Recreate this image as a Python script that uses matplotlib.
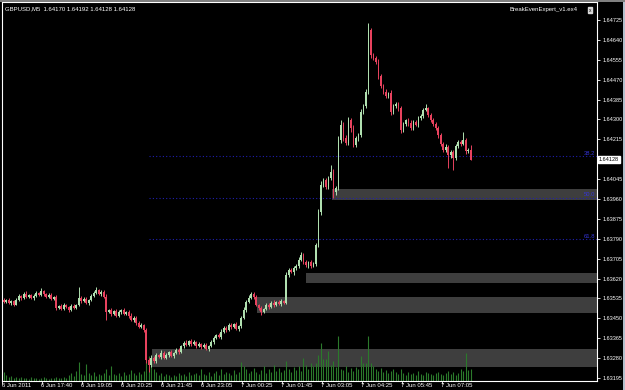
import matplotlib
matplotlib.use("Agg")
import matplotlib.pyplot as plt
from matplotlib.patches import Rectangle
import matplotlib.transforms as mtransforms

plt.rcParams['font.family'] = ['Liberation Sans', 'DejaVu Sans']

# GBPUSD M5 bars, 6 Jun 2011 16:20 -> 7 Jun 2011 ~07:55
first_open = 1.63529
closes = [
    1.63521, 1.63529, 1.63517, 1.63525, 1.63508, 1.63529, 1.63546, 1.63538, 1.63555, 1.63542,
    1.63551, 1.63538, 1.63546, 1.63559, 1.63551, 1.63568, 1.63555, 1.63542, 1.63551, 1.63534,
    1.63542, 1.63495, 1.63504, 1.63491, 1.63508, 1.63500, 1.63487, 1.63504, 1.63495, 1.63508,
    1.63538, 1.63525, 1.63534, 1.63517, 1.63529, 1.63546, 1.63559, 1.63572, 1.63555, 1.63564,
    1.63542, 1.63478, 1.63487, 1.63470, 1.63482, 1.63461, 1.63478, 1.63487, 1.63470, 1.63478,
    1.63461, 1.63444, 1.63453, 1.63431, 1.63414, 1.63423, 1.63401, 1.63273, 1.63252, 1.63282,
    1.63269, 1.63295, 1.63286, 1.63303, 1.63282, 1.63295, 1.63307, 1.63290, 1.63303, 1.63316,
    1.63307, 1.63333, 1.63346, 1.63337, 1.63354, 1.63342, 1.63350, 1.63333, 1.63342, 1.63329,
    1.63337, 1.63320, 1.63333, 1.63350, 1.63367, 1.63380, 1.63371, 1.63393, 1.63410, 1.63401,
    1.63423, 1.63414, 1.63427, 1.63406, 1.63418, 1.63453, 1.63487, 1.63521, 1.63538, 1.63555,
    1.63542, 1.63508, 1.63495, 1.63478, 1.63491, 1.63508, 1.63500, 1.63517, 1.63508, 1.63521,
    1.63512, 1.63525, 1.63517, 1.63636, 1.63657, 1.63649, 1.63666, 1.63675, 1.63700, 1.63722,
    1.63692, 1.63679, 1.63692, 1.63675, 1.63683, 1.63764, 1.63905, 1.64020, 1.64042, 1.64012,
    1.64050, 1.64076, 1.63991, 1.64008, 1.64213, 1.64277, 1.64221, 1.64200, 1.64298, 1.64264,
    1.64191, 1.64221, 1.64234, 1.64332, 1.64358, 1.64418, 1.64682, 1.64576, 1.64563, 1.64546,
    1.64486, 1.64443, 1.64418, 1.64400, 1.64413, 1.64332, 1.64358, 1.64366, 1.64349, 1.64255,
    1.64281, 1.64298, 1.64285, 1.64264, 1.64289, 1.64277, 1.64307, 1.64315, 1.64341, 1.64349,
    1.64319, 1.64298, 1.64281, 1.64264, 1.64234, 1.64196, 1.64170, 1.64183, 1.64149, 1.64161,
    1.64136, 1.64187, 1.64204, 1.64196, 1.64213, 1.64165, 1.64170, 1.64128,
]
# wick lengths above / below the body, in points (0.00001)
upper_wick = [
    6, 4, 8, 5, 3, 7, 9, 4, 6, 10, 5, 4, 8, 6, 3, 12, 5, 4, 7, 6,
    5, 8, 4, 6, 9, 5, 3, 7, 6, 4, 47, 6, 5, 8, 4, 9, 6, 10, 5, 7,
    6, 12, 4, 7, 5, 9, 6, 4, 8, 5, 6, 10, 7, 5, 8, 6, 4, 9, 6, 12,
    5, 8, 4, 10, 6, 7, 5, 9, 4, 6, 8, 5, 7, 10, 4, 6, 9, 5, 7, 4,
    6, 8, 5, 7, 9, 4, 6, 12, 5, 8, 6, 7, 4, 9, 5, 8, 10, 6, 12, 8,
    6, 9, 5, 7, 4, 8, 6, 5, 10, 4, 7, 6, 5, 12, 9, 6, 8, 5, 10, 12,
    7, 8, 5, 9, 6, 10, 12, 15, 9, 8, 10, 30, 12, 8, 15, 20, 10, 12, 14, 9,
    12, 8, 10, 12, 9, 14, 30, 8, 10, 7, 12, 9, 8, 10, 6, 12, 8, 10, 7, 9,
    10, 6, 8, 12, 7, 9, 6, 8, 10, 15, 6, 8, 10, 7, 9, 6, 8, 10, 7, 9,
    8, 10, 6, 9, 34, 7, 9, 22,
]
lower_wick = [
    5, 7, 4, 9, 6, 3, 5, 8, 4, 6, 7, 5, 9, 4, 6, 5, 8, 6, 4, 7,
    6, 9, 5, 7, 4, 8, 10, 5, 6, 7, 5, 8, 4, 6, 9, 5, 7, 4, 6, 8,
    5, 34, 6, 9, 5, 7, 4, 8, 6, 5, 9, 6, 8, 10, 5, 7, 9, 12, 32, 10,
    8, 10, 6, 9, 5, 7, 12, 6, 8, 5, 9, 6, 8, 5, 7, 10, 6, 8, 5, 9,
    7, 5, 8, 6, 10, 5, 7, 9, 6, 8, 5, 10, 7, 6, 9, 8, 6, 10, 7, 5,
    8, 6, 10, 12, 7, 5, 9, 6, 8, 5, 7, 9, 6, 8, 10, 6, 12, 8, 9, 7,
    10, 8, 12, 9, 7, 10, 8, 12, 10, 9, 8, 10, 25, 12, 10, 14, 12, 9, 11, 16,
    10, 9, 12, 10, 8, 11, 9, 12, 10, 8, 12, 9, 11, 10, 8, 12, 9, 10, 14, 11,
    9, 8, 12, 10, 9, 7, 11, 8, 10, 6, 9, 8, 10, 7, 12, 9, 10, 8, 55, 12,
    50, 9, 8, 10, 7, 12, 9, 0,
]
volumes = [
    90, 60, 40, 50, 35, 45, 30, 40, 35, 30, 25, 40, 30, 35, 25, 30, 40, 30, 25, 35,
    30, 45, 35, 30, 40, 30, 60, 80, 50, 100, 190, 70, 60, 170, 80, 60, 90, 50, 70, 60,
    80, 120, 60, 150, 70, 60, 80, 50, 90, 60, 70, 110, 80, 60, 90, 70, 100, 340, 250, 200,
    120, 90, 60, 80, 50, 70, 60, 40, 60, 50, 80, 60, 70, 50, 90, 60, 70, 80, 60, 120,
    70, 60, 90, 50, 80, 100, 60, 120, 70, 90, 80, 60, 110, 70, 90, 190, 150, 120, 80, 100,
    130, 90, 70, 110, 150, 80, 120, 90, 160, 100, 130, 90, 110, 200, 120, 90, 140, 110, 150, 100,
    230, 160, 120, 180, 150, 180, 260, 380, 220, 220, 300, 160, 200, 140, 450, 120, 110, 150, 90, 130,
    100, 140, 120, 250, 180, 180, 450, 180, 150, 120, 100, 130, 90, 110, 80, 100, 120, 90, 70, 120,
    80, 60, 90, 70, 80, 60, 100, 70, 60, 90, 80, 70, 60, 80, 90, 70, 60, 80, 100, 70,
    90, 60, 80, 120, 100, 280, 110, 120,
]
assert len(closes) == len(upper_wick) == len(lower_wick) == len(volumes)

time_label_bars = [0, 16, 32, 48, 64, 80, 96, 112, 128, 144, 160, 176]
time_labels = ["6 Jun 2011", "6 Jun 17:40", "6 Jun 19:05", "6 Jun 20:25", "6 Jun 21:45",
               "6 Jun 23:05", "7 Jun 00:25", "7 Jun 01:45", "7 Jun 03:05", "7 Jun 04:25",
               "7 Jun 05:45", "7 Jun 07:05"]
price_ticks = [1.64725, 1.64640, 1.64555, 1.64470, 1.64385, 1.64300, 1.64215, 1.64045,
               1.63960, 1.63875, 1.63790, 1.63705, 1.63620, 1.63535, 1.63450, 1.63365,
               1.63280, 1.63195]

# supply/demand zones: start bar, top, bottom
zone_start = [131.5, 121, 101.5, 59.5]
zone_top = [1.64003, 1.63645, 1.63542, 1.63320]
zone_bottom = [1.63956, 1.63602, 1.63474, 1.63243]

# fibo from the 20:30 low to the 04:15 high
fib_low = 1.63220
fib_high = 1.64712
fib_start = 58
fib_levels = [38.2, 50.0, 61.8]

bid = 1.64128
header = "GBPUSD,M5  1.64170 1.64192 1.64128 1.64128"

pt = 0.00001
ymin, ymax = 1.63182, 1.64802
vol_scale = 0.0000427 / 10

fig = plt.figure(figsize=(6.25, 3.9), dpi=100, facecolor='black')
ax = fig.add_axes([2 / 625, 9 / 390, 595 / 625, 379 / 390], facecolor='black')
ax.set_xlim(-0.5, 237.5)
ax.set_ylim(ymin, ymax)

for s, t, b in zip(zone_start, zone_top, zone_bottom):
    ax.add_patch(Rectangle((s, b), 240 - s, t - b, facecolor='#3e3e3e', edgecolor='none', zorder=1))

for lv in fib_levels:
    y = fib_high - lv / 100 * (fib_high - fib_low)
    ax.plot([fib_start, 237.5], [y, y], color='#2020b0', lw=0.8, ls=(0, (1, 2)), zorder=2)
    ax.text(236.8, y + 0.00001, "%.1f" % lv, color='#3434d8', fontsize=4.2,
            ha='right', va='bottom', zorder=5)

xs = list(range(len(closes)))
ax.vlines(xs, ymin, [ymin + v * vol_scale for v in volumes], color='#2b7a2b', lw=0.8, zorder=2)

opens = [first_open] + closes[:-1]
for i, (o, c, uw, lw_) in enumerate(zip(opens, closes, upper_wick, lower_wick)):
    col = '#b0e0b0' if c >= o else '#e8425e'
    hi = max(o, c) + uw * pt
    lo = min(o, c) - lw_ * pt
    ax.vlines(i, lo, hi, color=col, lw=0.7, zorder=3)
    h = abs(c - o)
    if h < 2 * pt:
        h = 2 * pt
    ax.bar(i, h, bottom=min(o, c), width=0.72, color=col, linewidth=0, zorder=4)

for sp in ax.spines.values():
    sp.set_color('white')
    sp.set_linewidth(0.8)

ax.yaxis.tick_right()
ax.set_yticks(price_ticks)
ax.set_yticklabels(["%.5f" % p for p in price_ticks])
ax.tick_params(axis='y', colors='white', labelsize=4.0, length=2, width=0.6, pad=2)
ax.set_xticks([b - 0.7 for b in time_label_bars])
ax.set_xticklabels([])
ax.tick_params(axis='x', colors='white', length=2, width=0.6, direction='out')
for b, lab in zip(time_label_bars, time_labels):
    ax.text(b - 0.9, -0.004, lab, transform=mtransforms.blended_transform_factory(ax.transData, ax.transAxes),
            color='white', fontsize=4.3, ha='left', va='top', clip_on=False)

ax.text(1.003, bid, "%.5f" % bid, transform=mtransforms.blended_transform_factory(ax.transAxes, ax.transData),
        color='black', fontsize=4.0, ha='left', va='center',
        bbox=dict(facecolor='white', edgecolor='white', pad=0.8), clip_on=False, zorder=6)

fig.text(5 / 625, 1 - 9 / 390, header, color='white', fontsize=4.3, ha='left', va='center')
fig.text(578 / 625, 1 - 10 / 390, "BreakEvenExpert_v1.ex4", color='white', fontsize=4.3, ha='right', va='center')
fig.text(590 / 625, 1 - 10 / 390, "x", color='black', fontsize=3.5, ha='center', va='center',
         bbox=dict(facecolor='#d8d8d8', edgecolor='#d8d8d8', pad=0.5))

fig.patches.append(Rectangle((622.5 / 625, 0), 2.5 / 625, 1, transform=fig.transFigure,
                             facecolor='#b4c0cc', edgecolor='none'))
fig.patches.append(Rectangle((0, 1 - 1.5 / 390), 1, 1.5 / 390, transform=fig.transFigure,
                             facecolor='#808080', edgecolor='none'))

fig.savefig("out.png", dpi=100, facecolor='black')
